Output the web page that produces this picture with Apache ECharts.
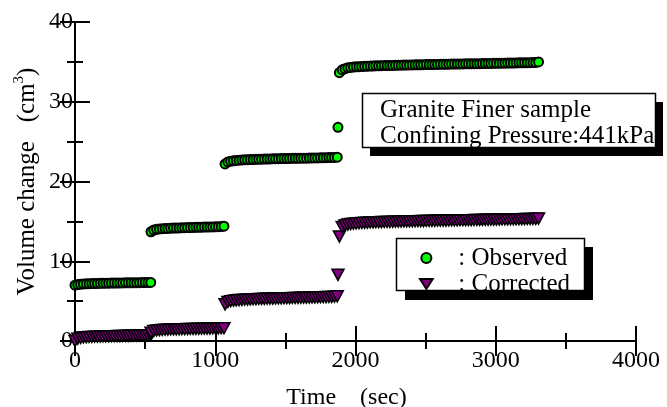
<!DOCTYPE html>
<html>
<head>
<meta charset="utf-8">
<script src="https://cdn.jsdelivr.net/npm/echarts@6/dist/echarts.min.js"></script>
<style>
  html, body { margin: 0; padding: 0; background: #fff; }
  #chart { width: 667px; height: 407px; }
</style>
</head>
<body>
<div id="chart"></div>
<script>
// Sampling times (sec) for each loading stage
const t1 = [0,20,40,60,80,100,120,140,160,180,200,220,240,260,280,300,320,340,360,380,400,420,440,460,480,500,520,540];
const t2 = [542,562,582,602,622,642,662,682,702,722,742,762,782,802,822,842,862,882,902,922,942,962,982,1002,1022,1042,1062];
const t3 = [1070,1090,1110,1130,1150,1170,1190,1210,1230,1250,1270,1290,1310,1330,1350,1370,1390,1410,1430,1450,1470,1490,1510,1530,1550,1570,1590,1610,1630,1650,1670,1690,1710,1730,1750,1770,1790,1810,1830,1850,1870];
const tJump = [1875];
const t4 = [1885,1905,1925,1945,1965,1985,2005,2025,2045,2065,2085,2105,2125,2145,2165,2185,2205,2225,2245,2265,2285,2305,2325,2345,2365,2385,2405,2425,2445,2465,2485,2505,2525,2545,2565,2585,2605,2625,2645,2665,2685,2705,2725,2745,2765,2785,2805,2825,2845,2865,2885,2905,2925,2945,2965,2985,3005,3025,3045,3065,3085,3105,3125,3145,3165,3185,3205,3225,3245,3265,3285,3305];

// Observed volume change (cm3)
const obs1 = [7.0,7.08,7.12,7.15,7.17,7.19,7.2,7.21,7.22,7.23,7.24,7.25,7.25,7.26,7.27,7.27,7.28,7.28,7.29,7.29,7.3,7.3,7.31,7.31,7.32,7.32,7.33,7.35];
const obs2 = [13.7,13.92,14.0,14.05,14.08,14.1,14.12,14.14,14.16,14.17,14.18,14.2,14.21,14.22,14.23,14.24,14.25,14.26,14.27,14.28,14.29,14.3,14.31,14.32,14.33,14.35,14.4];
const obs3 = [22.2,22.45,22.55,22.6,22.64,22.67,22.7,22.72,22.74,22.75,22.76,22.78,22.79,22.8,22.81,22.82,22.83,22.84,22.85,22.86,22.87,22.87,22.88,22.89,22.9,22.9,22.91,22.92,22.93,22.93,22.94,22.95,22.96,22.96,22.97,22.98,22.99,23.0,23.01,23.02,23.05];
const obsJump = [26.8];
const obs4 = [33.65,34.0,34.15,34.25,34.3,34.35,34.38,34.4,34.42,34.44,
  34.46,34.47,34.48,34.5,34.51,34.52,34.53,34.54,34.55,34.56,
  34.57,34.58,34.59,34.6,34.6,34.61,34.62,34.63,34.63,34.64,
  34.65,34.66,34.66,34.67,34.68,34.68,34.69,34.7,34.7,34.71,
  34.72,34.72,34.73,34.74,34.74,34.75,34.76,34.76,34.77,34.78,
  34.78,34.79,34.8,34.8,34.81,34.82,34.82,34.83,34.84,34.84,
  34.85,34.86,34.86,34.87,34.88,34.88,34.89,34.9,34.9,34.91,
  34.93,35.0];

// Corrected volume change (cm3)
const cor1 = [0.0,0.3,0.4,0.45,0.48,0.5,0.52,0.54,0.55,0.56,0.57,0.58,0.59,0.6,0.61,0.62,0.62,0.63,0.64,0.65,0.66,0.66,0.67,0.68,0.69,0.7,0.71,0.72];
const cor2 = [1.05,1.25,1.32,1.36,1.39,1.41,1.43,1.44,1.45,1.46,1.47,1.48,1.49,1.5,1.51,1.52,1.52,1.53,1.54,1.55,1.56,1.56,1.57,1.58,1.59,1.6,1.6];
const cor3 = [4.6,4.9,5.0,5.06,5.1,5.13,5.16,5.18,5.2,5.22,5.24,5.25,5.27,5.28,5.29,5.3,5.31,5.32,5.33,5.34,5.35,5.36,5.37,5.38,5.39,5.4,5.41,5.42,5.43,5.44,5.45,5.46,5.47,5.48,5.49,5.5,5.51,5.52,5.53,5.55,5.6];
const corJump = [8.3];
const cor4 = [13.1,14.3,14.5,14.6,14.66,14.7,14.74,14.77,14.8,14.82,
  14.84,14.86,14.88,14.89,14.9,14.91,14.92,14.93,14.94,14.95,
  14.96,14.97,14.98,14.99,15.0,15.0,15.01,15.02,15.03,15.04,
  15.04,15.05,15.06,15.07,15.07,15.08,15.09,15.1,15.1,15.11,
  15.12,15.12,15.13,15.14,15.14,15.15,15.16,15.16,15.17,15.18,
  15.18,15.19,15.2,15.2,15.21,15.22,15.22,15.23,15.24,15.24,
  15.25,15.26,15.26,15.27,15.28,15.28,15.29,15.3,15.3,15.31,
  15.32,15.35];

const xTicks = { min: 0, max: 4000, interval: 1000 };
const yTicks = { min: 0, max: 40, interval: 10 };

const pair = (t, v) => t.map((x, i) => [x, v[i]]);
const observedData = [].concat(pair(t1, obs1), pair(t2, obs2), pair(t3, obs3), pair(tJump, obsJump), pair(t4, obs4));
const correctedData = [].concat(pair(t1, cor1), pair(t2, cor2), pair(t3, cor3), pair(tJump, corJump), pair(t4, cor4));

const FONT = "'Liberation Serif', 'Times New Roman', serif";
const axisLine = { show: true, lineStyle: { color: '#000', width: 2 } };
const tick = { show: true, inside: true, length: 15, lineStyle: { color: '#000', width: 2 } };
const minor = { show: true, splitNumber: 2, length: 8, lineStyle: { color: '#000', width: 2 } };
const plain = v => String(v);

const chart = echarts.init(document.getElementById('chart'), null, { renderer: 'canvas' });
chart.setOption({
  animation: false,
  backgroundColor: '#fff',
  grid: { left: 75, right: 31, top: 22, bottom: 66, containLabel: false, outerBoundsMode: 'none' },
  xAxis: [
    {
      type: 'value', position: 'bottom', min: xTicks.min, max: xTicks.max, interval: xTicks.interval,
      axisLine, axisTick: tick, minorTick: minor, splitLine: { show: false },
      axisLabel: { color: '#000', fontFamily: FONT, fontSize: 24, margin: 8, formatter: plain },
      name: 'Time    (sec)', nameLocation: 'middle', nameGap: 45, nameMoveOverlap: false,
      nameTextStyle: { color: '#000', fontFamily: FONT, fontSize: 24, padding: [0, 18, 0, 0] }
    },
    {
      type: 'value', position: 'top', min: xTicks.min, max: xTicks.max, interval: xTicks.interval,
      axisLine, axisTick: tick, minorTick: minor, splitLine: { show: false },
      axisLabel: { show: false }
    }
  ],
  yAxis: [
    {
      type: 'value', position: 'left', min: yTicks.min, max: yTicks.max, interval: yTicks.interval,
      axisLine, axisTick: tick, minorTick: minor, splitLine: { show: false },
      axisLabel: { color: '#000', fontFamily: FONT, fontSize: 24, margin: 2, formatter: plain },
      name: '{a|Volume change   (cm}{s|3}{a|)}', nameLocation: 'middle', nameGap: 33, nameMoveOverlap: false,
      nameTextStyle: {
        color: '#000', fontFamily: FONT, fontSize: 25,
        rich: {
          a: { fontFamily: FONT, fontSize: 25, color: '#000', lineHeight: 30 },
          s: { fontFamily: FONT, fontSize: 15, color: '#000', verticalAlign: 'top', lineHeight: 30 }
        }
      }
    },
    {
      type: 'value', position: 'right', min: yTicks.min, max: yTicks.max, interval: yTicks.interval,
      axisLine, axisTick: tick, minorTick: minor, splitLine: { show: false },
      axisLabel: { show: false }
    }
  ],
  legend: {
    orient: 'vertical', left: 414, top: 240, z: 60,
    itemWidth: 14, itemHeight: 10, itemGap: 0,
    data: [
      { name: 'Observed', icon: 'circle' },
      { name: 'Corrected', icon: 'path://M0,0 L14,0 L7,11 Z' }
    ],
    formatter: name => ': ' + name,
    textStyle: { color: '#000', fontFamily: FONT, fontSize: 25, lineHeight: 26, padding: [0, 0, 0, 20] }
  },
  graphic: [
    { type: 'rect', z: 50, shape: { x: 370, y: 102, width: 293, height: 54 }, style: { fill: '#000' } },
    { type: 'rect', z: 51, shape: { x: 362.5, y: 93.5, width: 293, height: 54 }, style: { fill: '#fff', stroke: '#000', lineWidth: 1.5 } },
    { type: 'text', z: 52, x: 380, y: 97, style: { text: 'Granite Finer sample\nConfining Pressure:441kPa', fill: '#000', font: '25px ' + FONT, lineHeight: 26 } },
    { type: 'rect', z: 50, shape: { x: 405, y: 247, width: 188, height: 53 }, style: { fill: '#000' } },
    { type: 'rect', z: 51, shape: { x: 396.5, y: 238.5, width: 188, height: 52 }, style: { fill: '#fff', stroke: '#000', lineWidth: 1.5 } }
  ],
  series: [
    {
      name: 'Observed', type: 'scatter', xAxisIndex: 0, yAxisIndex: 0,
      symbol: 'circle', symbolSize: 9,
      itemStyle: { color: '#00ff00', borderColor: '#000', borderWidth: 2, opacity: 1 },
      data: observedData, z: 3
    },
    {
      name: 'Corrected', type: 'scatter', xAxisIndex: 0, yAxisIndex: 0,
      symbol: 'triangle', symbolRotate: 180, symbolSize: [12, 11],
      itemStyle: { color: '#800080', borderColor: '#000', borderWidth: 1.5, opacity: 1 },
      data: correctedData, z: 3
    }
  ]
});
</script>
</body>
</html>
